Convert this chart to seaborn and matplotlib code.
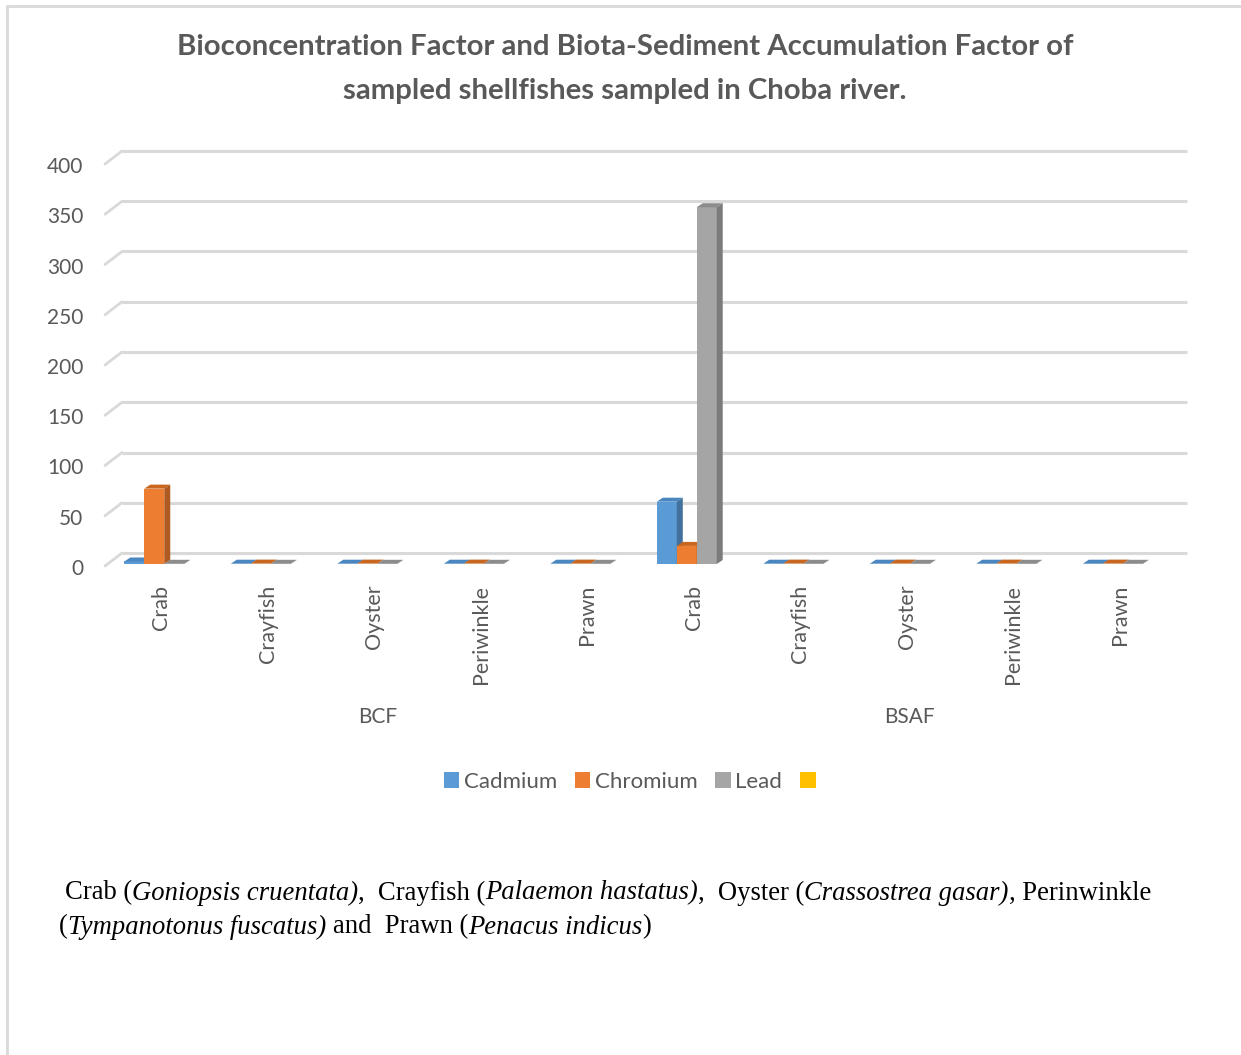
import numpy as np
import pandas as pd
import matplotlib
matplotlib.use("Agg")
import matplotlib.pyplot as plt
from matplotlib.patches import Polygon, Rectangle
from matplotlib.transforms import ScaledTranslation, blended_transform_factory
from matplotlib.lines import Line2D
import seaborn as sns

# ---------------- data ----------------
species = ["Crab", "Crayfish", "Oyster", "Periwinkle", "Prawn"]
groups = ["BCF", "BSAF"]
metals = ["Cadmium", "Chromium", "Lead"]
cadmium = [2.5, 0.3, 0.3, 0.3, 0.3, 62, 0.3, 0.3, 0.3, 0.3]
chromium = [75, 0.4, 0.4, 0.4, 0.4, 18, 0.4, 0.4, 0.4, 0.4]
lead = [0.2, 0.2, 0.2, 0.2, 0.2, 355, 0.2, 0.2, 0.2, 0.2]
yticks = [0, 50, 100, 150, 200, 250, 300, 350, 400]
title_lines = ["Bioconcentration Factor and Biota-Sediment Accumulation Factor of",
               "sampled shellfishes sampled in Choba river."]

colors = {"Cadmium": "#5B9BD5", "Chromium": "#ED7D31", "Lead": "#A5A5A5", " ": "#FFC000"}
side_colors = {"Cadmium": "#41719C", "Chromium": "#AE5A21", "Lead": "#7B7B7B"}
top_colors = {"Cadmium": "#4A86BF", "Chromium": "#C9661F", "Lead": "#8C8C8C"}

cats = [f"{g}|{s}" for g in groups for s in species]
rows = []
for i, c in enumerate(cats):
    rows.append((c, "Cadmium", cadmium[i]))
    rows.append((c, "Chromium", chromium[i]))
    rows.append((c, "Lead", lead[i]))
df = pd.DataFrame(rows, columns=["cat", "metal", "value"])

# ---------------- style ----------------
sns.set_theme(style="white")
plt.rcParams["font.family"] = ["Lato", "DejaVu Sans"]
GRAY_TXT = "#595959"

W, H = 1241, 1055
fig = plt.figure(figsize=(W / 100, H / 100), dpi=100)
fig.patch.set_facecolor("white")

# axes placement (pixel based)
ax_l, ax_r, ax_b, ax_t = 111, 1176, 564, 162
ax = fig.add_axes([ax_l / W, (H - ax_b) / H, (ax_r - ax_l) / W, (ax_b - ax_t) / H])
ax.set_facecolor("none")

hue_order = ["Cadmium", "Chromium", "Lead", " "]
sns.barplot(data=df, x="cat", y="value", hue="metal", hue_order=hue_order,
            order=cats, palette=colors, width=0.75, dodge=True, legend=False,
            errorbar=None, ax=ax, saturation=1, linewidth=0, zorder=5)

ax.set_xlim(-0.5, 9.5)
ax.set_ylim(0, 400)
for sp in ax.spines.values():
    sp.set_visible(False)
ax.set_xlabel("")
ax.set_ylabel("")
ax.grid(False)

# ticks
ax.set_yticks(yticks)
ax.set_yticklabels([str(v) for v in yticks])
ax.tick_params(axis="y", length=0, pad=20, labelsize=15, labelcolor=GRAY_TXT)
ax.tick_params(axis="x", length=0, pad=15, labelsize=15.5, labelcolor=GRAY_TXT)
ax.set_xticks(range(len(cats)))
ax.set_xticklabels([c.split("|")[1] for c in cats], rotation=90, va="top", ha="center")
for lbl in ax.get_yticklabels():
    lbl.set_transform(lbl.get_transform() + ScaledTranslation(0, -0.03, fig.dpi_scale_trans))
for lbl in ax.get_xticklabels():
    lbl.set_transform(lbl.get_transform() + ScaledTranslation(-0.03, 0, fig.dpi_scale_trans))

# 3D-like gridlines (back wall) with left connectors
back = ax.transData + ScaledTranslation(0.11, 0.11, fig.dpi_scale_trans)
front = ax.transData + ScaledTranslation(-0.06, -0.02, fig.dpi_scale_trans)
for v in yticks:
    ax.plot([-0.5, 9.5], [v, v], transform=back, color="#D9D9D9", lw=2.2, zorder=1,
            clip_on=False, solid_capstyle="butt")
    p0 = front.transform((-0.5, v))
    p1 = back.transform((-0.5, v))
    fig.add_artist(Line2D([p0[0] / W, p1[0] / W], [p0[1] / H, p1[1] / H],
                          transform=fig.transFigure, color="#D9D9D9", lw=2.0, zorder=1))

# 3D depth for bars
fig.canvas.draw()
inv = ax.transData.inverted()
o = inv.transform((0, 0))
d = inv.transform((6, 4))
ddx, ddy = d[0] - o[0], d[1] - o[1]
bars = [p for p in ax.patches if isinstance(p, Rectangle)]
z = 5
bars_sorted = sorted(bars, key=lambda p: p.get_x())
for p in bars_sorted:
    h = p.get_height()
    if not np.isfinite(h):
        continue
    x0 = p.get_x()
    x1 = x0 + p.get_width()
    fc = matplotlib.colors.to_hex(p.get_facecolor())
    m = [k for k, v in colors.items() if v.lower() == fc.lower()]
    m = m[0] if m else "Lead"
    if m == " ":
        continue
    z += 1
    p.set_zorder(z)
    top = Polygon([(x0, h), (x1, h), (x1 + ddx, h + ddy), (x0 + ddx, h + ddy)],
                  closed=True, facecolor=top_colors[m], edgecolor="none", zorder=z)
    side = Polygon([(x1, 0), (x1 + ddx, ddy), (x1 + ddx, h + ddy), (x1, h)],
                   closed=True, facecolor=side_colors[m], edgecolor="none", zorder=z)
    ax.add_patch(top)
    ax.add_patch(side)

# group labels
bt = blended_transform_factory(ax.transData, fig.transFigure)
ax.text(2, 1 - 717 / H, "BCF", transform=bt, ha="center", va="center",
        fontsize=15, color=GRAY_TXT)
ax.text(7, 1 - 717 / H, "BSAF", transform=bt, ha="center", va="center",
        fontsize=15, color=GRAY_TXT)

# title
fig.text(625 / W, 1 - 47 / H, title_lines[0], ha="center", va="center", fontsize=21.2,
         fontweight="bold", color=GRAY_TXT)
fig.text(625 / W, 1 - 91 / H, title_lines[1], ha="center", va="center", fontsize=21.2,
         fontweight="bold", color=GRAY_TXT)

# legend
handles = [Rectangle((0, 0), 1, 1, facecolor=colors[k], edgecolor="none") for k in hue_order]
labels = ["Cadmium", "Chromium", "Lead", ""]
leg = fig.legend(handles, labels, loc="center", bbox_to_anchor=(632 / W, 1 - 782 / H),
                 ncol=4, frameon=False, fontsize=16, handlelength=0.7, handleheight=0.7,
                 handletextpad=0.2, columnspacing=0.8, labelcolor=GRAY_TXT)

# footnote with mixed italic
renderer = fig.canvas.get_renderer()
FS = 19.15
SERIF = ["Liberation Serif", "DejaVu Serif"]


def text_width(s, style):
    t = fig.text(0, 0, s, fontsize=FS, family=SERIF, style=style)
    w = t.get_window_extent(renderer).width
    t.remove()
    return w


space_w = text_width("x x", "normal") - text_width("xx", "normal")


def rich_line(x_px, y_px, segs):
    x = x_px
    for s, style in segs:
        lead_sp = len(s) - len(s.lstrip(" "))
        trail_sp = len(s) - len(s.rstrip(" "))
        x += lead_sp * space_w
        core = s.strip(" ")
        if core:
            t = fig.text(x / W, 1 - y_px / H, core, fontsize=FS, family=SERIF,
                         style=style, color="black", ha="left", va="center")
            x = t.get_window_extent(renderer).x1
        x += trail_sp * space_w


rich_line(65, 893, [("Crab (", "normal"), ("Goniopsis cruentata)", "italic"),
                    (",  Crayfish (", "normal"), ("Palaemon hastatus)", "italic"),
                    (",  Oyster (", "normal"), ("Crassostrea gasar)", "italic"),
                    (", Perinwinkle", "normal")])
rich_line(59, 927, [("(", "normal"), ("Tympanotonus fuscatus)", "italic"),
                    (" and  Prawn (", "normal"), ("Penacus indicus", "italic"),
                    (")", "normal")])

# outer frame (top and left edges)
fig.add_artist(Line2D([7 / W, 1], [1 - 6 / H, 1 - 6 / H], transform=fig.transFigure,
                      color="#D9D9D9", lw=2))
fig.add_artist(Line2D([7 / W, 7 / W], [0, 1 - 6 / H], transform=fig.transFigure,
                      color="#D9D9D9", lw=2))

fig.savefig("out.png", dpi=100, facecolor="white")
